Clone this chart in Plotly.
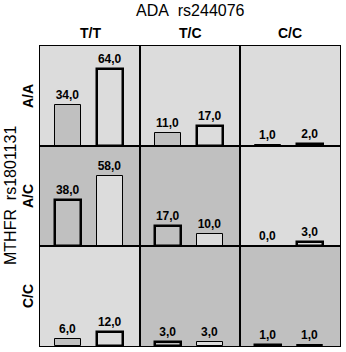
import plotly.graph_objects as go
from plotly.subplots import make_subplots

row_labels = ["A/A", "A/C", "C/C"]
col_labels = ["T/T", "T/C", "C/C"]
# first bar (darker fill) and second bar (lighter fill) per cell, rows x cols
series1 = [[34, 11, 1], [38, 17, 0], [6, 3, 1]]
series2 = [[64, 17, 2], [58, 10, 3], [12, 3, 1]]
# panel shading: 1 = dark background, 0 = light background
dark_panel = [[0, 0, 0], [1, 1, 0], [0, 1, 1]]

LIGHT = "#dcdcdc"
DARK = "#c0c0c0"

W, H = 346, 352
ml, mr, mt, mb = 40, 6, 46, 6
PW, PH = W - ml - mr, H - mt - mb

def px(xpix):
    return (xpix - ml) / PW

def py(ypix):
    return (H - mb - ypix) / PH

fig = make_subplots(rows=3, cols=3, horizontal_spacing=0, vertical_spacing=0)

for r in range(3):
    for c in range(3):
        dark = dark_panel[r][c]
        widths = [2.5, 1] if dark else [1, 2.5]
        fig.add_trace(
            go.Bar(
                x=[0, 1],
                y=[series1[r][c], series2[r][c]],
                width=0.62,
                marker=dict(color=[DARK, LIGHT], line=dict(color="black", width=widths)),
                texttemplate="%{y:.1f}",
                textposition="outside",
                textfont=dict(family="Liberation Sans, Arial", size=12, color="black", weight="bold"),
                cliponaxis=False,
                showlegend=False,
                hoverinfo="skip",
            ),
            row=r + 1, col=c + 1,
        )
        idx = r * 3 + c + 1
        sfx = "" if idx == 1 else str(idx)
        fig.add_shape(
            type="rect", xref=f"x{sfx} domain", yref=f"y{sfx} domain",
            x0=0, x1=1, y0=0, y1=1, fillcolor=DARK if dark else LIGHT,
            line=dict(width=0), layer="below",
        )

fig.update_xaxes(range=[-0.667, 1.714], showticklabels=False, ticks="", showgrid=False,
                 zeroline=False, showline=True, mirror=True, linecolor="black", linewidth=1)
fig.update_yaxes(range=[0, 83.3], showticklabels=False, ticks="", showgrid=False,
                 zeroline=False, showline=True, mirror=True, linecolor="black", linewidth=1)

ann = []
font_b = dict(family="Liberation Sans, Arial", size=14, color="black", weight="bold")
font_t = dict(family="Liberation Sans, Arial", size=16, color="black")
ann.append(dict(text="ADA\u00a0\u00a0rs244076", x=px(190), y=py(11), xref="paper", yref="paper",
                showarrow=False, font=font_t, xanchor="center", yanchor="middle"))
for c, lab in enumerate(col_labels):
    ann.append(dict(text=lab, x=(c + 0.5) / 3, y=py(33),
                    xref="paper", yref="paper", showarrow=False, font=font_b,
                    xanchor="center", yanchor="middle"))
for r, lab in enumerate(row_labels):
    ann.append(dict(text=lab, x=px(28), y=1 - (r + 0.5) / 3,
                    xref="paper", yref="paper", showarrow=False, font=font_b, textangle=-90,
                    xanchor="center", yanchor="middle"))
ann.append(dict(text="MTHFR\u00a0\u00a0rs1801131", x=px(10), y=0.5, xref="paper", yref="paper",
                showarrow=False, font=font_t, textangle=-90, xanchor="center", yanchor="middle"))

fig.update_layout(
    width=W, height=H,
    margin=dict(l=ml, r=mr, t=mt, b=mb),
    paper_bgcolor="white", plot_bgcolor=LIGHT,
    separators=", ",
    annotations=ann,
    bargap=0,
)

fig.write_html("out.html")
